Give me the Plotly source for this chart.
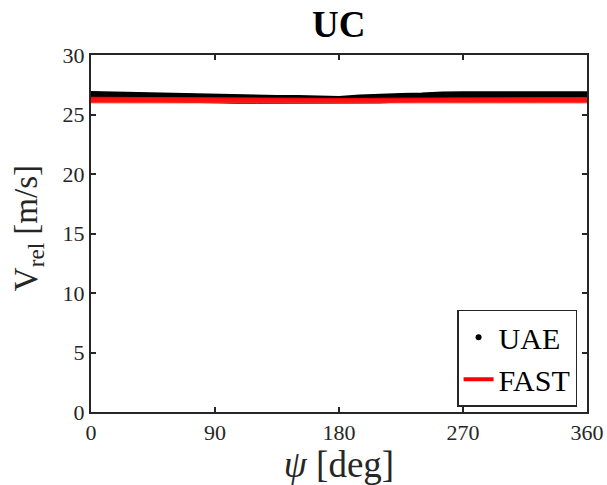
import plotly.graph_objects as go

# Azimuth angle psi [deg]
psi = [0, 15, 30, 45, 60, 75, 90, 105, 120, 135, 150, 165, 180,
       195, 210, 225, 240, 255, 270, 285, 300, 315, 330, 345, 360]

# UAE measured scatter cloud envelope [m/s]
uae_upper = [26.92, 26.88, 26.82, 26.78, 26.74, 26.70, 26.67, 26.63, 26.60, 26.58, 26.57, 26.55, 26.50,
             26.62, 26.70, 26.74, 26.78, 26.88, 26.90, 26.90, 26.90, 26.88, 26.90, 26.90, 26.90]
uae_lower = [26.15, 26.15, 26.12, 26.10, 26.05, 26.00, 25.96, 25.95, 25.95, 25.95, 25.95, 25.94, 25.93,
             25.95, 25.97, 26.05, 26.10, 26.12, 26.15, 26.15, 26.15, 26.15, 26.15, 26.15, 26.15]

# FAST simulation band [m/s]
fast_upper = [26.45, 26.44, 26.43, 26.42, 26.40, 26.38, 26.36, 26.35, 26.34, 26.34, 26.35, 26.34, 26.33,
              26.35, 26.37, 26.38, 26.40, 26.42, 26.43, 26.43, 26.43, 26.43, 26.43, 26.43, 26.43]
fast_lower = [25.98, 25.98, 25.98, 25.98, 25.97, 25.97, 25.97, 25.97, 25.97, 25.97, 25.97, 25.97, 25.97,
              25.97, 25.97, 25.97, 25.98, 25.98, 25.98, 25.98, 25.98, 25.98, 25.98, 25.98, 25.98]

FONT = "Liberation Serif"
AX = "#262626"

fig = go.Figure()

# UAE band
fig.add_trace(go.Scatter(x=psi, y=uae_lower, mode="lines", line=dict(color="black", width=1),
                         showlegend=False, hoverinfo="skip"))
fig.add_trace(go.Scatter(x=psi, y=uae_upper, mode="lines", line=dict(color="black", width=1.5),
                         fill="tonexty", fillcolor="black", showlegend=False, hoverinfo="skip"))
# FAST band
fig.add_trace(go.Scatter(x=psi, y=fast_lower, mode="lines", line=dict(color="#ff3030", width=1),
                         showlegend=False, hoverinfo="skip"))
fig.add_trace(go.Scatter(x=psi, y=fast_upper, mode="lines", line=dict(color="red", width=1),
                         fill="tonexty", fillcolor="#ff1010", showlegend=False, hoverinfo="skip"))

# Legend entries
fig.add_trace(go.Scatter(x=[None], y=[None], mode="markers", name="UAE",
                         marker=dict(color="black", size=6)))
fig.add_trace(go.Scatter(x=[None], y=[None], mode="lines", name="FAST",
                         line=dict(color="red", width=4)))

fig.update_layout(
    width=607, height=485,
    margin=dict(l=91, r=20, t=55, b=73),
    paper_bgcolor="white", plot_bgcolor="white",
    font=dict(family=FONT, color=AX),
    title=dict(text="<b>UC</b>", x=0.5581, xanchor="center", y=0.95, yanchor="middle",
               font=dict(family=FONT, size=37, color="black")),
    showlegend=True,
    legend=dict(x=0.98, xanchor="right", y=0.015, yanchor="bottom",
                traceorder="normal",
                bgcolor="white", bordercolor=AX, borderwidth=1.5,
                font=dict(family=FONT, size=30, color="black"),
                itemwidth=30, tracegroupgap=0),
    annotations=[dict(text="V<sub>rel</sub> [m/s]", textangle=-90,
                      xref="paper", yref="paper", x=-0.127, y=0.515,
                      xanchor="center", yanchor="middle", showarrow=False,
                      font=dict(family=FONT, size=33, color=AX))],
)

fig.update_xaxes(range=[0, 360], tickvals=[0, 90, 180, 270, 360], automargin=False,
                 ticks="inside", ticklen=5, tickwidth=1.5, tickcolor=AX,
                 showline=True, linewidth=2, linecolor=AX, mirror="ticks",
                 showgrid=False, zeroline=False,
                 tickfont=dict(family=FONT, size=22, color=AX),
                 title=dict(text="<i>ψ</i> [deg]", standoff=2,
                            font=dict(family=FONT, size=37, color=AX)))
fig.update_yaxes(range=[0, 30], tickvals=[0, 5, 10, 15, 20, 25, 30], automargin=False,
                 ticks="inside", ticklen=5, tickwidth=1.5, tickcolor=AX,
                 showline=True, linewidth=2, linecolor=AX, mirror="ticks",
                 showgrid=False, zeroline=False,
                 tickfont=dict(family=FONT, size=22, color=AX))

fig.write_html("out.html")
